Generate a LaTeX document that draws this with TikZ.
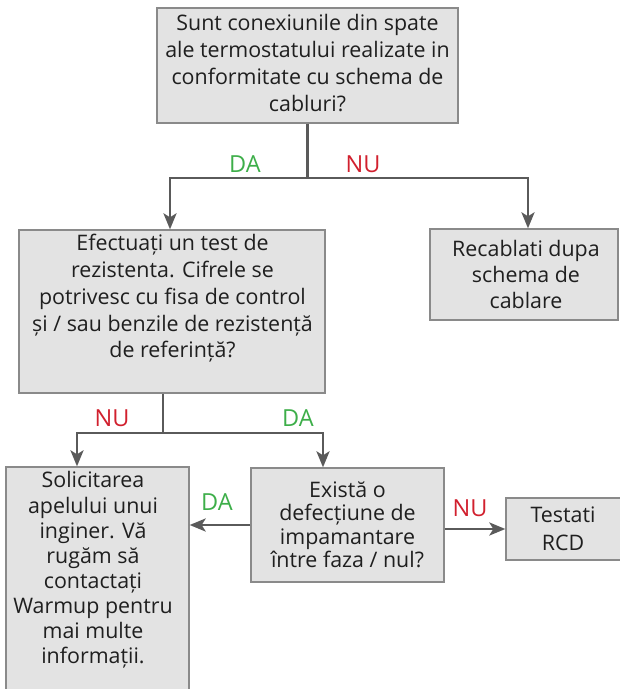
\documentclass[tikz,border=0pt]{standalone}
\usepackage{fontspec}
\setmainfont{Open Sans}
\usetikzlibrary{arrows.meta}
\definecolor{boxfill}{HTML}{E3E3E3}
\definecolor{boxline}{HTML}{8A8A8A}
\definecolor{linegray}{HTML}{5A5A5A}
\definecolor{dagreen}{HTML}{3DAE49}
\definecolor{nured}{HTML}{D1202E}
\begin{document}
\begin{tikzpicture}[x=1pt,y=-1pt,
  box/.style={draw=boxline, fill=boxfill, line width=1.3pt, inner sep=0pt},
  txt/.style={inner sep=0pt, align=center, text=black!88, font=\fontsize{21.4}{#1}\selectfont},
  txt/.default=26.7,
  plainline/.style={draw=linegray, line width=2.8pt},
  arrowline/.style={draw=linegray, line width=2.8pt, -{Stealth[length=16pt,width=13pt,inset=4pt]}},
  yes/.style={text=dagreen, inner sep=0pt, font=\fontsize{23.5}{26}\selectfont},
  no/.style={text=nured, inner sep=0pt, font=\fontsize{23.5}{26}\selectfont}]
\useasboundingbox (0,0) rectangle (620,689);
\clip (0,0) rectangle (620,689);
% boxes
\node[box, minimum width=301, minimum height=115] (q1) at (307.5,65.5) {};
\node[box, minimum width=306, minimum height=163] (q2) at (172,311.5) {};
\node[box, minimum width=188, minimum height=91] (rec) at (524,274.5) {};
\node[box, minimum width=183, minimum height=228] (sol) at (97.5,581) {};
\node[box, minimum width=193, minimum height=114] (ex) at (347.5,525) {};
\node[box, minimum width=118, minimum height=62] (te) at (565,529) {};
% texts
\node[txt] (q1t) at (307.5,63) {Sunt conexiunile din spate\\ale termostatului realizate in\\conformitate cu schema de\\cabluri?};
\node[txt] (q2t) at (172.5,298.5) {Efectuați un test de\\rezistenta. Cifrele se\\potrivesc cu fisa de control\\și / sau benzile de rezistență\\de referință?};
\node[txt=26] (rect) at (526,274) {Recablati dupa\\schema de\\cablare};
\node[txt=25.1] (solt) at (93,570) {Solicitarea\\apelului unui\\inginer. Vă\\rugăm să\\contactați\\Warmup pentru\\mai multe\\informații.};
\node[txt=23.5] (ext) at (347.5,525) {Există o\\defecțiune de\\impamantare\\între faza / nul?};
\node[txt=28] (tet) at (563,529) {Testati\\RCD};
% connectors
\coordinate (j1) at (307.5,178);
\draw[plainline] (q1.south) -- (j1);
\draw[arrowline] (j1) -| (q2.north -| 170,0);
\draw[arrowline] (j1) -| (rec.north -| 528,0);
\coordinate (j2) at (163,433);
\draw[plainline] (q2.south -| j2) -- (j2);
\draw[arrowline] (j2) -| (sol.north -| 77,0);
\draw[arrowline] (j2) -| (ex.north -| 323,0);
\draw[arrowline] (ex.west) -- (ex.west -| sol.east);
\draw[arrowline] (te.west -| ex.east) -- (te.west);
% labels
\node[yes] (l1) at (245,164) {DA};
\node[no] (l2) at (363,164) {NU};
\node[no] (l3) at (112,418) {NU};
\node[yes] (l4) at (298,418) {DA};
\node[yes] (l5) at (217,502) {DA};
\node[no] (l6) at (470,508) {NU};
\end{tikzpicture}
\end{document}
